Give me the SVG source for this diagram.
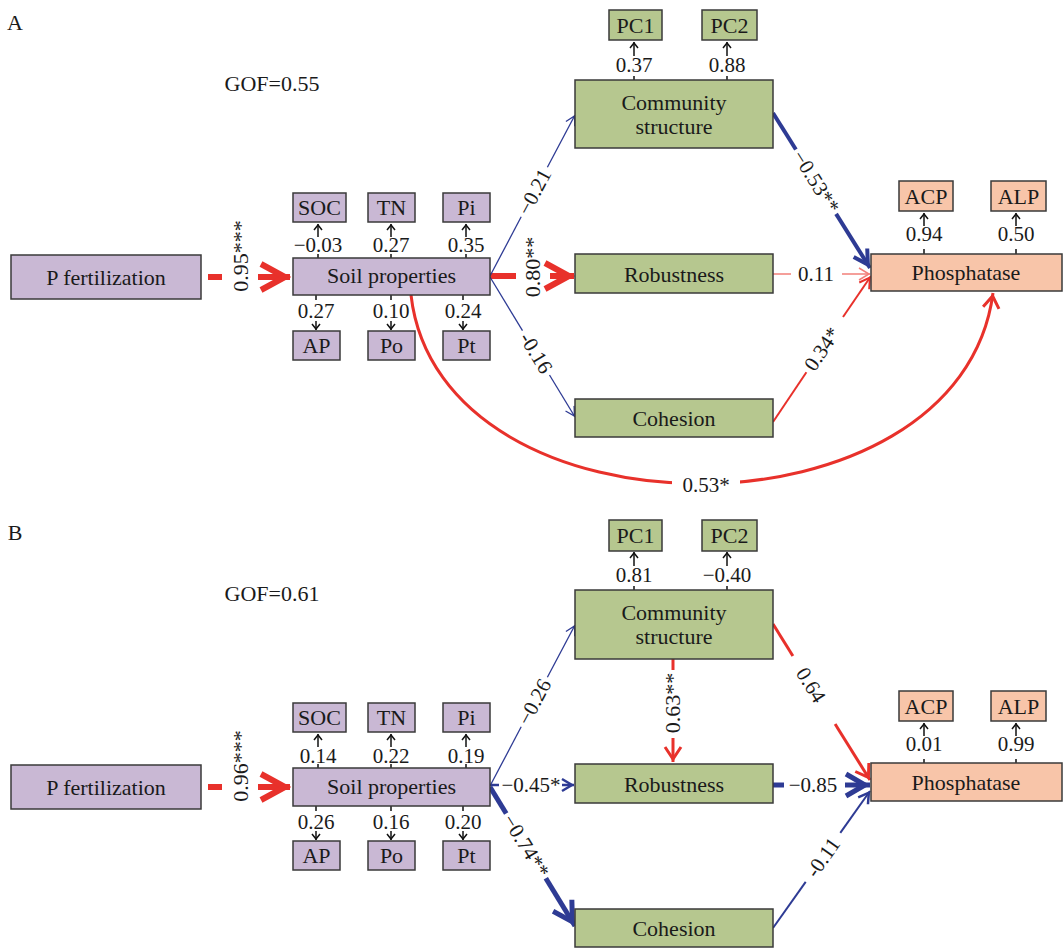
<svg xmlns="http://www.w3.org/2000/svg" width="1064" height="949" viewBox="0 0 1064 949">
<style>
text{font-family:"Liberation Serif","Times New Roman",serif;fill:#1a1a1a;text-anchor:middle}
.nt{font-size:22px}
.lb{font-size:21px}
.c{dominant-baseline:central}
.box{stroke:#3a3a3a;stroke-width:1.5}
.lav{fill:#c9b8d4}
.grn{fill:#b6c78f}
.sal{fill:#f8c5a9}
.r{stroke:#e8312b;fill:none}
.rl{stroke:#f27f79;fill:none}
.b{stroke:#2e3b94;fill:none}
.k{stroke:#111;stroke-width:1.5;fill:none}
</style>
<defs>
<marker id="mRL" markerWidth="10" markerHeight="10" refX="5" refY="0" orient="auto" markerUnits="userSpaceOnUse" overflow="visible"><path d="M-24,-13 L0,0 L-24,13" fill="none" stroke="#e8312b" stroke-width="6"/></marker>
<marker id="mRM" markerWidth="10" markerHeight="10" refX="3" refY="0" orient="auto" markerUnits="userSpaceOnUse" overflow="visible"><path d="M-12,-8 L0,0 L-12,8" fill="none" stroke="#e8312b" stroke-width="3"/></marker>
<marker id="mRS" markerWidth="10" markerHeight="10" refX="2" refY="0" orient="auto" markerUnits="userSpaceOnUse" overflow="visible"><path d="M-10,-6 L0,0 L-10,6" fill="none" stroke="#e8312b" stroke-width="2"/></marker>
<marker id="mRT" markerWidth="10" markerHeight="10" refX="1" refY="0" orient="auto" markerUnits="userSpaceOnUse" overflow="visible"><path d="M-10,-6 L0,0 L-10,6" fill="none" stroke="#f27f79" stroke-width="1.5"/></marker>
<marker id="mBL" markerWidth="10" markerHeight="10" refX="5" refY="0" orient="auto" markerUnits="userSpaceOnUse" overflow="visible"><path d="M-19,-11 L0,0 L-19,11" fill="none" stroke="#2e3b94" stroke-width="5"/></marker>
<marker id="mBM" markerWidth="10" markerHeight="10" refX="4" refY="0" orient="auto" markerUnits="userSpaceOnUse" overflow="visible"><path d="M-14,-8 L0,0 L-14,8" fill="none" stroke="#2e3b94" stroke-width="4"/></marker>
<marker id="mBS" markerWidth="10" markerHeight="10" refX="2" refY="0" orient="auto" markerUnits="userSpaceOnUse" overflow="visible"><path d="M-10,-6 L0,0 L-10,6" fill="none" stroke="#2e3b94" stroke-width="2.5"/></marker>
<marker id="mBT" markerWidth="10" markerHeight="10" refX="1" refY="0" orient="auto" markerUnits="userSpaceOnUse" overflow="visible"><path d="M-9,-5 L0,0 L-9,5" fill="none" stroke="#2e3b94" stroke-width="1.3"/></marker>
<marker id="mK" markerWidth="10" markerHeight="10" refX="1" refY="0" orient="auto" markerUnits="userSpaceOnUse" overflow="visible"><path d="M-5,-4 L0,0 L-5,4" fill="none" stroke="#111" stroke-width="1.5"/></marker>
</defs>
<rect width="1064" height="949" fill="#fff"/>

<g id="titles">
<text class="nt" x="15" y="30">A</text>
<text class="nt" x="272" y="91">GOF=0.55</text>
<text class="nt" x="15" y="540">B</text>
<text class="nt" x="272" y="601">GOF=0.61</text>
</g>

<!-- ================= Panel A connectors ================= -->
<g id="connectors-A">
<!-- P fertilization -> Soil -->
<line class="r" x1="208" y1="277" x2="222" y2="277" stroke-width="6"/>
<line class="r" x1="258" y1="277" x2="290" y2="277" stroke-width="6" marker-end="url(#mRL)"/>
<text class="nt" transform="translate(248,256) rotate(-90)">0.95***</text>
<!-- Soil -> Robustness -->
<line class="r" x1="490" y1="276" x2="516" y2="276" stroke-width="6"/>
<line class="r" x1="550" y1="276" x2="574" y2="276" stroke-width="6" marker-end="url(#mRL)"/>
<text class="nt" transform="translate(540,267) rotate(-90)">0.80**</text>
<!-- Soil -> Community -->
<line class="b" x1="490" y1="276" x2="521.2" y2="216.8" stroke-width="1.3"/>
<line class="b" x1="547.4" y1="167.2" x2="575" y2="115" stroke-width="1.3" marker-end="url(#mBT)"/>
<text class="lb c" transform="translate(534.3,192) rotate(-62.2)">−0.21</text>
<!-- Soil -> Cohesion -->
<line class="b" x1="490" y1="277" x2="522.5" y2="330.6" stroke-width="1.3"/>
<line class="b" x1="549.5" y1="375" x2="575" y2="417" stroke-width="1.3" marker-end="url(#mBT)"/>
<text class="lb c" transform="translate(536,352.8) rotate(58.7)">-0.16</text>
<!-- Community -> Phosphatase -->
<line class="b" x1="773" y1="113" x2="795.9" y2="149.5" stroke-width="4"/>
<line class="b" x1="836.1" y1="213.9" x2="870" y2="268" stroke-width="4" marker-end="url(#mBM)"/>
<text class="lb c" transform="translate(816,181.7) rotate(58)">−0.53**</text>
<!-- Robustness -> Phosphatase -->
<line class="rl" x1="773" y1="274" x2="791" y2="274" stroke-width="1.5"/>
<line class="rl" x1="842" y1="274" x2="870" y2="274" stroke-width="1.5" marker-end="url(#mRT)"/>
<text class="lb c" x="816" y="274">0.11</text>
<!-- Cohesion -> Phosphatase -->
<line class="r" x1="773" y1="422" x2="806.4" y2="372.2" stroke-width="2"/>
<line class="r" x1="843" y1="317" x2="871" y2="276" stroke-width="2" marker-end="url(#mRS)"/>
<text class="lb c" transform="translate(822,349) rotate(-56.1)">0.34*</text>
<!-- Soil -> Phosphatase (curve) -->
<path class="r" d="M411,295 C440,547 960,547 993,293" stroke-width="3" marker-end="url(#mRM)"/>
<rect x="672" y="473" width="68" height="24" fill="#fff"/>
<text class="lb c" x="706" y="485">0.53*</text>

<!-- indicator arrows A -->
<path class="k" d="M318,258V254 M391,258V254 M466,258V254 M316,295V300 M391,295V300 M463,295V300 M634,80V76 M727,80V76 M924,254V249 M1016,254V249"/>
<line class="k" x1="318" y1="237" x2="318" y2="224" marker-end="url(#mK)"/>
<line class="k" x1="391" y1="237" x2="391" y2="224" marker-end="url(#mK)"/>
<line class="k" x1="466" y1="237" x2="466" y2="224" marker-end="url(#mK)"/>
<line class="k" x1="316" y1="321" x2="316" y2="330" marker-end="url(#mK)"/>
<line class="k" x1="391" y1="321" x2="391" y2="330" marker-end="url(#mK)"/>
<line class="k" x1="463" y1="321" x2="463" y2="330" marker-end="url(#mK)"/>
<line class="k" x1="634" y1="56" x2="634" y2="42" marker-end="url(#mK)"/>
<line class="k" x1="727" y1="56" x2="727" y2="42" marker-end="url(#mK)"/>
<line class="k" x1="924" y1="226" x2="924" y2="213" marker-end="url(#mK)"/>
<line class="k" x1="1016" y1="226" x2="1016" y2="213" marker-end="url(#mK)"/>
<text class="lb" x="318" y="252">−0.03</text>
<text class="lb" x="391" y="252">0.27</text>
<text class="lb" x="466" y="252">0.35</text>
<text class="lb" x="316" y="318">0.27</text>
<text class="lb" x="391" y="318">0.10</text>
<text class="lb" x="463" y="318">0.24</text>
<text class="lb" x="634" y="72">0.37</text>
<text class="lb" x="727" y="72">0.88</text>
<text class="lb" x="924" y="241">0.94</text>
<text class="lb" x="1016" y="241">0.50</text>
</g>

<!-- ================= Panel A nodes ================= -->
<g id="pfertA"><rect class="box lav" x="11" y="255" width="190" height="44"/><text class="nt" x="106" y="285">P fertilization</text></g>
<g id="soilA"><rect class="box lav" x="293" y="258" width="197" height="37"/><text class="nt" x="391.5" y="283">Soil properties</text></g>
<g id="socA"><rect class="box lav" x="293" y="193" width="53" height="29"/><text class="nt" x="319.5" y="215">SOC</text></g>
<g id="tnA"><rect class="box lav" x="368" y="193" width="47" height="29"/><text class="nt" x="391.5" y="215">TN</text></g>
<g id="piA"><rect class="box lav" x="443" y="193" width="47" height="29"/><text class="nt" x="466.5" y="215">Pi</text></g>
<g id="apA"><rect class="box lav" x="293" y="331" width="47" height="29"/><text class="nt" x="316.5" y="353">AP</text></g>
<g id="poA"><rect class="box lav" x="368" y="331" width="47" height="29"/><text class="nt" x="391.5" y="353">Po</text></g>
<g id="ptA"><rect class="box lav" x="443" y="331" width="47" height="29"/><text class="nt" x="466.5" y="353">Pt</text></g>
<g id="commA"><rect class="box grn" x="575" y="80" width="198" height="68"/><text class="nt" x="674" y="110">Community</text><text class="nt" x="674" y="134">structure</text></g>
<g id="pc1A"><rect class="box grn" x="609" y="10" width="53" height="30"/><text class="nt" x="635.5" y="33">PC1</text></g>
<g id="pc2A"><rect class="box grn" x="702" y="10" width="55" height="30"/><text class="nt" x="729.5" y="33">PC2</text></g>
<g id="robA"><rect class="box grn" x="575" y="254" width="198" height="39"/><text class="nt" x="674" y="282">Robustness</text></g>
<g id="cohA"><rect class="box grn" x="575" y="399" width="198" height="38"/><text class="nt" x="674" y="426">Cohesion</text></g>
<g id="phosA"><rect class="box sal" x="871" y="254" width="191" height="37"/><text class="nt" x="966" y="280">Phosphatase</text></g>
<g id="acpA"><rect class="box sal" x="899" y="181" width="54" height="30"/><text class="nt" x="926" y="204">ACP</text></g>
<g id="alpA"><rect class="box sal" x="991" y="181" width="55" height="30"/><text class="nt" x="1018.5" y="204">ALP</text></g>

<!-- ================= Panel B connectors ================= -->
<g id="connectors-B">
<!-- P fertilization -> Soil -->
<line class="r" x1="208" y1="787" x2="222" y2="787" stroke-width="6"/>
<line class="r" x1="258" y1="787" x2="290" y2="787" stroke-width="6" marker-end="url(#mRL)"/>
<text class="nt" transform="translate(248,766) rotate(-90)">0.96***</text>
<!-- Soil -> Community -->
<line class="b" x1="490" y1="786" x2="521.2" y2="726.8" stroke-width="1.3"/>
<line class="b" x1="547.4" y1="677.2" x2="575" y2="625" stroke-width="1.3" marker-end="url(#mBT)"/>
<text class="lb c" transform="translate(534.3,702) rotate(-62.2)">−0.26</text>
<!-- Soil -> Robustness -->
<line class="b" x1="490" y1="785" x2="499" y2="785" stroke-width="2.5"/>
<line class="b" x1="562" y1="785" x2="574" y2="785" stroke-width="2.5" marker-end="url(#mBS)"/>
<text class="lb c" x="531" y="785">−0.45*</text>
<!-- Soil -> Cohesion -->
<line class="b" x1="490" y1="787" x2="506.2" y2="813.5" stroke-width="5"/>
<line class="b" x1="545.8" y1="878.3" x2="575" y2="926" stroke-width="5" marker-end="url(#mBL)"/>
<text class="lb c" transform="translate(526,845.9) rotate(58.55)">−0.74**</text>
<!-- Community -> Robustness -->
<line class="r" x1="673" y1="659" x2="673" y2="670" stroke-width="3"/>
<line class="r" x1="673" y1="738" x2="673" y2="762" stroke-width="3" marker-end="url(#mRM)"/>
<text class="nt" transform="translate(680,703) rotate(-90)">0.63**</text>
<!-- Community -> Phosphatase -->
<line class="r" x1="773" y1="624" x2="792.9" y2="656" stroke-width="3"/>
<line class="r" x1="835.1" y1="724" x2="870" y2="780" stroke-width="3" marker-end="url(#mRM)"/>
<text class="lb c" transform="translate(811,685) rotate(58.1)">0.64</text>
<!-- Robustness -> Phosphatase -->
<line class="b" x1="773" y1="785" x2="784" y2="785" stroke-width="5"/>
<line class="b" x1="845" y1="785" x2="870" y2="785" stroke-width="5" marker-end="url(#mBL)"/>
<text class="lb c" x="813" y="785">−0.85</text>
<!-- Cohesion -> Phosphatase -->
<line class="b" x1="773" y1="928" x2="805.7" y2="881.9" stroke-width="2"/>
<line class="b" x1="840.3" y1="832.9" x2="870" y2="791" stroke-width="2" marker-end="url(#mBS)"/>
<text class="lb c" transform="translate(823,857.4) rotate(-54.7)">-0.11</text>

<!-- indicator arrows B -->
<path class="k" d="M318,768V764 M391,768V764 M466,768V764 M316,806V811 M391,806V811 M463,806V811 M634,590V586 M727,590V586 M924,763V759 M1016,763V759"/>
<line class="k" x1="318" y1="747" x2="318" y2="734" marker-end="url(#mK)"/>
<line class="k" x1="391" y1="747" x2="391" y2="734" marker-end="url(#mK)"/>
<line class="k" x1="466" y1="747" x2="466" y2="734" marker-end="url(#mK)"/>
<line class="k" x1="316" y1="831" x2="316" y2="840" marker-end="url(#mK)"/>
<line class="k" x1="391" y1="831" x2="391" y2="840" marker-end="url(#mK)"/>
<line class="k" x1="463" y1="831" x2="463" y2="840" marker-end="url(#mK)"/>
<line class="k" x1="634" y1="566" x2="634" y2="552" marker-end="url(#mK)"/>
<line class="k" x1="727" y1="566" x2="727" y2="552" marker-end="url(#mK)"/>
<line class="k" x1="924" y1="736" x2="924" y2="723" marker-end="url(#mK)"/>
<line class="k" x1="1016" y1="736" x2="1016" y2="723" marker-end="url(#mK)"/>
<text class="lb" x="318" y="763">0.14</text>
<text class="lb" x="391" y="763">0.22</text>
<text class="lb" x="466" y="763">0.19</text>
<text class="lb" x="316" y="829">0.26</text>
<text class="lb" x="391" y="829">0.16</text>
<text class="lb" x="463" y="829">0.20</text>
<text class="lb" x="634" y="582">0.81</text>
<text class="lb" x="727" y="582">−0.40</text>
<text class="lb" x="924" y="751">0.01</text>
<text class="lb" x="1016" y="751">0.99</text>
</g>

<!-- ================= Panel B nodes ================= -->
<g id="pfertB"><rect class="box lav" x="11" y="765" width="190" height="44"/><text class="nt" x="106" y="795">P fertilization</text></g>
<g id="soilB"><rect class="box lav" x="293" y="768" width="197" height="38"/><text class="nt" x="391.5" y="794">Soil properties</text></g>
<g id="socB"><rect class="box lav" x="293" y="703" width="53" height="29"/><text class="nt" x="319.5" y="725">SOC</text></g>
<g id="tnB"><rect class="box lav" x="368" y="703" width="47" height="29"/><text class="nt" x="391.5" y="725">TN</text></g>
<g id="piB"><rect class="box lav" x="443" y="703" width="47" height="29"/><text class="nt" x="466.5" y="725">Pi</text></g>
<g id="apB"><rect class="box lav" x="293" y="841" width="47" height="29"/><text class="nt" x="316.5" y="863">AP</text></g>
<g id="poB"><rect class="box lav" x="368" y="841" width="47" height="29"/><text class="nt" x="391.5" y="863">Po</text></g>
<g id="ptB"><rect class="box lav" x="443" y="841" width="47" height="29"/><text class="nt" x="466.5" y="863">Pt</text></g>
<g id="commB"><rect class="box grn" x="575" y="590" width="198" height="69"/><text class="nt" x="674" y="620">Community</text><text class="nt" x="674" y="644">structure</text></g>
<g id="pc1B"><rect class="box grn" x="609" y="520" width="53" height="31"/><text class="nt" x="635.5" y="543">PC1</text></g>
<g id="pc2B"><rect class="box grn" x="702" y="520" width="55" height="31"/><text class="nt" x="729.5" y="543">PC2</text></g>
<g id="robB"><rect class="box grn" x="575" y="764" width="198" height="39"/><text class="nt" x="674" y="792">Robustness</text></g>
<g id="cohB"><rect class="box grn" x="575" y="909" width="198" height="38"/><text class="nt" x="674" y="936">Cohesion</text></g>
<g id="phosB"><rect class="box sal" x="871" y="763" width="191" height="38"/><text class="nt" x="966" y="790">Phosphatase</text></g>
<g id="acpB"><rect class="box sal" x="899" y="691" width="54" height="30"/><text class="nt" x="926" y="714">ACP</text></g>
<g id="alpB"><rect class="box sal" x="991" y="691" width="55" height="30"/><text class="nt" x="1018.5" y="714">ALP</text></g>
</svg>
